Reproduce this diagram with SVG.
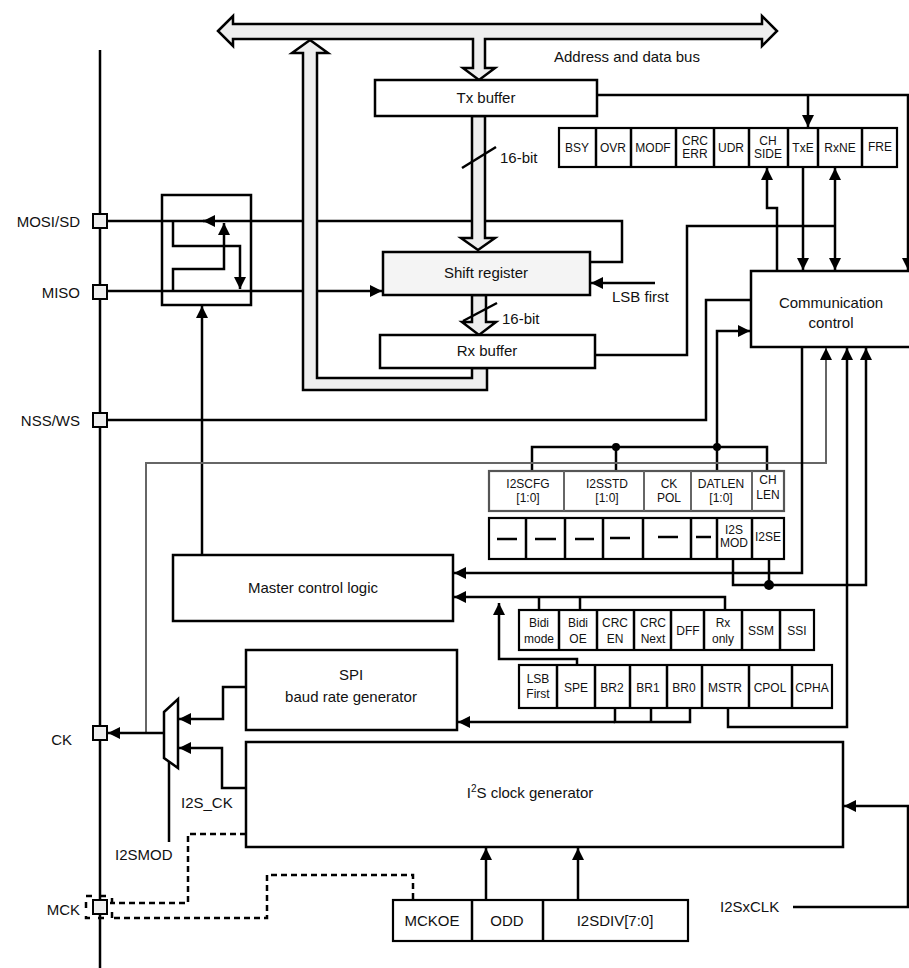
<svg xmlns="http://www.w3.org/2000/svg" width="909" height="968" viewBox="0 0 909 968">
<defs>
<marker id="ah" viewBox="0 0 10 10" refX="10" refY="5" markerWidth="12" markerHeight="12" markerUnits="userSpaceOnUse" orient="auto-start-reverse"><path d="M0,0 L10,5 L0,10 z" fill="#000"/></marker>
</defs>
<style>
text{font-family:"Liberation Sans",Arial,sans-serif;fill:#111}
.l{stroke:#000;stroke-width:2.5;fill:none}
.g{stroke:#666;stroke-width:2;fill:none}
.d{stroke:#000;stroke-width:2.5;fill:none;stroke-dasharray:6,4}
.b{fill:#fff;stroke:#000;stroke-width:2.5}
.bus{fill:#eee;stroke:#000;stroke-width:2.5}
.c{fill:#fff;stroke:#000;stroke-width:2.2}
.cg{fill:#fff;stroke:#555;stroke-width:2.2}
.t{font-size:15px;text-anchor:middle}
.s{font-size:12px;text-anchor:middle}
.p{font-size:15px;text-anchor:end}
.pin{fill:#eee;stroke:#000;stroke-width:2}
</style>
<g id="connectors">
<line class="l" x1="100" y1="50" x2="100" y2="968"/>
<polyline class="l" points="597,95 908,95 908,270" marker-end="url(#ah)"/>
<line class="l" x1="808" y1="95" x2="808" y2="127" marker-end="url(#ah)"/>
<polyline class="l" points="777,271 777,208 767,208 767,168" marker-end="url(#ah)"/>
<line class="l" x1="803" y1="168" x2="803" y2="270" marker-end="url(#ah)"/>
<line class="l" x1="835" y1="168" x2="835" y2="270" marker-start="url(#ah)" marker-end="url(#ah)"/>
<polyline class="l" points="595,355 687,355 687,226 835,226"/>
<polyline class="l" points="107,221 622,221 622,262 590,262"/>
<line class="l" x1="655" y1="283" x2="591" y2="283" marker-end="url(#ah)"/>
<line class="l" x1="107" y1="291" x2="382" y2="291" marker-end="url(#ah)"/>
<polyline class="l" points="173,221 173,246 240,246 240,289" marker-end="url(#ah)"/>
<polyline class="l" points="173,291 173,269 224,269 224,223" marker-end="url(#ah)"/>
<line class="l" x1="215" y1="221" x2="203" y2="221" marker-end="url(#ah)"/>
<line class="l" x1="202" y1="555" x2="202" y2="306" marker-end="url(#ah)"/>
<polyline class="l" points="107,420 706,420 706,300 751,300"/>
<polyline class="l" points="717,447 717,331 750,331" marker-end="url(#ah)"/>
<polyline class="l" points="532,471 532,447 767,447 767,471"/>
<line class="l" x1="616" y1="447" x2="616" y2="471"/>
<line class="l" x1="717" y1="447" x2="717" y2="471"/>
<circle cx="616" cy="447" r="4"/><circle cx="717" cy="447" r="4"/>
<polyline class="g" points="146,733 146,463 826,463 826,348" marker-end="url(#ah)"/>
<polyline class="l" points="802,347 802,573 454,573" marker-end="url(#ah)"/>
<polyline class="l" points="728,708 728,727 847,727 847,348" marker-end="url(#ah)"/>
<polyline class="l" points="733,559 733,585 866,585 866,348" marker-end="url(#ah)"/>
<line class="l" x1="769" y1="559" x2="769" y2="585"/>
<circle cx="769" cy="585" r="5"/>
<polyline class="l" points="725,610 725,597 454,597" marker-end="url(#ah)"/>
<line class="l" x1="539" y1="610" x2="539" y2="597"/>
<line class="l" x1="580" y1="610" x2="580" y2="597"/>
<polyline class="l" points="577,665 577,659 499,659 499,603" marker-end="url(#ah)"/>
<polyline class="l" points="615,708 615,722 690,722 690,708"/>
<line class="l" x1="651" y1="708" x2="651" y2="722"/>
<line class="l" x1="615" y1="722" x2="458" y2="722" marker-end="url(#ah)"/>
<polyline class="l" points="246,687 223,687 223,719 179,719" marker-end="url(#ah)"/>
<polyline class="l" points="246,788 222,788 222,748 179,748" marker-end="url(#ah)"/>
<line class="l" x1="164" y1="733" x2="108" y2="733" marker-end="url(#ah)"/>
<line class="l" x1="169" y1="760" x2="169" y2="842"/>
<polyline class="d" points="246,834 188,834 188,903 110,903"/>
<polyline class="d" points="413,899 413,875 267,875 267,918 110,918"/>
<line class="l" x1="486" y1="900" x2="486" y2="848" marker-end="url(#ah)"/>
<line class="l" x1="578" y1="900" x2="578" y2="848" marker-end="url(#ah)"/>
<polyline class="l" points="793,907 908,907 908,806 844,806" marker-end="url(#ah)"/>
</g>
<g id="buses">
<polygon class="bus" points="218,31 233,16 233,24 473,24 473,24 762,24 762,16 777,31 762,46 762,39 485,39 485,68 495,68 479,80 463,68 473,68 473,39 233,39 233,46"/>
<polygon class="bus" points="310,40 328,53 317,53 317,378 472,378 472,368 487,368 487,390 303,390 303,53 292,53"/>
<polygon class="bus" points="472,116 485,116 485,238 495,238 478,250 461,238 472,238"/>
<polygon class="bus" points="472,295 486,295 486,322 496,322 479,335 462,322 472,322"/>
</g>
<g id="tx"><rect class="b" x="375" y="80" width="222" height="36"/><text class="t" x="486" y="103">Tx buffer</text></g>
<g id="shift"><rect x="383" y="252" width="207" height="43" fill="#f4f4f4" stroke="#000" stroke-width="2.5"/><text class="t" x="486" y="278">Shift register</text></g>
<g id="rx"><rect class="b" x="380" y="335" width="215" height="33"/><text class="t" x="487" y="356">Rx buffer</text></g>
<g id="bitlabels">
<line class="l" x1="462" y1="168" x2="496" y2="147"/><text x="500" y="163" font-size="15">16-bit</text>
<line class="l" x1="463" y1="321" x2="497" y2="303"/><text x="502" y="324" font-size="15">16-bit</text>
<text x="554" y="62" font-size="15">Address and data bus</text>
<text x="612" y="302" font-size="15">LSB first</text>
</g>
<g id="status">
<rect class="c" x="559" y="128" width="338" height="39"/>
<g class="l"><line x1="596" y1="128" x2="596" y2="167"/><line x1="631" y1="128" x2="631" y2="167"/><line x1="676" y1="128" x2="676" y2="167"/><line x1="714" y1="128" x2="714" y2="167"/><line x1="749" y1="128" x2="749" y2="167"/><line x1="788" y1="128" x2="788" y2="167"/><line x1="818" y1="128" x2="818" y2="167"/><line x1="862" y1="128" x2="862" y2="167"/></g>
<text class="s" x="577" y="152">BSY</text><text class="s" x="613" y="152">OVR</text><text class="s" x="653" y="152">MODF</text>
<text class="s" x="695" y="145">CRC</text><text class="s" x="695" y="158">ERR</text>
<text class="s" x="731" y="152">UDR</text>
<text class="s" x="768" y="145">CH</text><text class="s" x="768" y="158">SIDE</text>
<text class="s" x="803" y="152">TxE</text><text class="s" x="840" y="152">RxNE</text><text class="s" x="880" y="151">FRE</text>
</g>
<g id="comm"><rect class="b" x="751" y="271" width="165" height="76"/><text class="t" x="831" y="308">Communication</text><text class="t" x="831" y="328">control</text></g>
<g id="switch"><rect class="l" x="162" y="195" width="89" height="110"/></g>
<g id="i2scfg">
<rect class="cg" x="489" y="471" width="295" height="40"/>
<g class="g"><line x1="564" y1="471" x2="564" y2="511"/><line x1="644" y1="471" x2="644" y2="511"/><line x1="691" y1="471" x2="691" y2="511"/><line x1="752" y1="471" x2="752" y2="511"/></g>
<text class="s" x="528" y="488">I2SCFG</text><text class="s" x="528" y="502">[1:0]</text>
<text class="s" x="607" y="488">I2SSTD</text><text class="s" x="607" y="502">[1:0]</text>
<text class="s" x="669" y="488">CK</text><text class="s" x="669" y="502">POL</text>
<text class="s" x="721" y="488">DATLEN</text><text class="s" x="721" y="502">[1:0]</text>
<text class="s" x="768" y="484">CH</text><text class="s" x="768" y="499">LEN</text>
</g>
<g id="i2sctl">
<rect class="c" x="489" y="518" width="295" height="41"/>
<g class="l"><line x1="526" y1="518" x2="526" y2="559"/><line x1="565" y1="518" x2="565" y2="559"/><line x1="603" y1="518" x2="603" y2="559"/><line x1="643" y1="518" x2="643" y2="559"/><line x1="691" y1="518" x2="691" y2="559"/><line x1="717" y1="518" x2="717" y2="559"/><line x1="752" y1="518" x2="752" y2="559"/></g>
<g stroke="#000" stroke-width="2.5"><line x1="497" y1="539" x2="517" y2="539"/><line x1="535" y1="539" x2="556" y2="539"/><line x1="575" y1="539" x2="594" y2="539"/><line x1="610" y1="538" x2="630" y2="538"/><line x1="658" y1="537" x2="678" y2="537"/><line x1="696" y1="537" x2="711" y2="537"/></g>
<text class="s" x="734" y="534">I2S</text><text class="s" x="734" y="547">MOD</text>
<text class="s" x="768" y="541">I2SE</text>
</g>
<g id="cr2">
<rect class="c" x="519" y="610" width="295" height="40"/>
<g class="l"><line x1="559" y1="610" x2="559" y2="650"/><line x1="597" y1="610" x2="597" y2="650"/><line x1="634" y1="610" x2="634" y2="650"/><line x1="671" y1="610" x2="671" y2="650"/><line x1="704" y1="610" x2="704" y2="650"/><line x1="742" y1="610" x2="742" y2="650"/><line x1="780" y1="610" x2="780" y2="650"/></g>
<text class="s" x="539" y="627">Bidi</text><text class="s" x="539" y="643">mode</text>
<text class="s" x="578" y="627">Bidi</text><text class="s" x="578" y="643">OE</text>
<text class="s" x="615" y="627">CRC</text><text class="s" x="615" y="643">EN</text>
<text class="s" x="653" y="627">CRC</text><text class="s" x="653" y="643">Next</text>
<text class="s" x="688" y="635">DFF</text>
<text class="s" x="723" y="627">Rx</text><text class="s" x="723" y="643">only</text>
<text class="s" x="761" y="635">SSM</text><text class="s" x="797" y="635">SSI</text>
</g>
<g id="cr1">
<rect class="c" x="519" y="665" width="313" height="43"/>
<g class="l"><line x1="557" y1="665" x2="557" y2="708"/><line x1="595" y1="665" x2="595" y2="708"/><line x1="630" y1="665" x2="630" y2="708"/><line x1="667" y1="665" x2="667" y2="708"/><line x1="702" y1="665" x2="702" y2="708"/><line x1="749" y1="665" x2="749" y2="708"/><line x1="792" y1="665" x2="792" y2="708"/></g>
<text class="s" x="538" y="683">LSB</text><text class="s" x="538" y="698">First</text>
<text class="s" x="576" y="692">SPE</text><text class="s" x="612" y="692">BR2</text><text class="s" x="648" y="692">BR1</text><text class="s" x="684" y="692">BR0</text>
<text class="s" x="725" y="692">MSTR</text><text class="s" x="770" y="692">CPOL</text><text class="s" x="812" y="692">CPHA</text>
</g>
<g id="master"><rect class="b" x="173" y="555" width="280" height="66"/><text class="t" x="313" y="593">Master control logic</text></g>
<g id="baud"><rect class="b" x="246" y="650" width="211" height="80"/><text class="t" x="351" y="680">SPI</text><text class="t" x="351" y="702">baud rate generator</text></g>
<g id="i2sclk"><rect class="b" x="246" y="742" width="597" height="105"/><text class="t" x="530" y="798">I<tspan font-size="10" dy="-6">2</tspan><tspan dy="6">S clock generator</tspan></text></g>
<g id="mux"><polygon points="164,712 178,699 178,768 164,758" fill="#fff" stroke="#000" stroke-width="2.5"/></g>
<g id="i2spr">
<rect class="c" x="393" y="900" width="295" height="41"/>
<g class="l"><line x1="472" y1="900" x2="472" y2="941"/><line x1="543" y1="900" x2="543" y2="941"/></g>
<text class="t" x="432" y="926">MCKOE</text><text class="t" x="507" y="926">ODD</text><text class="t" x="615" y="926">I2SDIV[7:0]</text>
</g>
<g id="pins">
<rect class="pin" x="93" y="214" width="14" height="14"/><text class="p" x="80" y="227">MOSI/SD</text>
<rect class="pin" x="93" y="285" width="14" height="14"/><text class="p" x="80" y="298">MISO</text>
<rect class="pin" x="93" y="413" width="14" height="14"/><text class="p" x="80" y="426">NSS/WS</text>
<rect class="pin" x="93" y="726" width="14" height="14"/><text class="p" x="72" y="745">CK</text>
<rect class="pin" x="93" y="900" width="14" height="14"/><text class="p" x="80" y="915">MCK</text>
<rect x="86" y="896" width="26" height="22" fill="none" stroke="#000" stroke-width="2.5" stroke-dasharray="6,8"/>
<text x="181" y="808" font-size="15">I2S_CK</text>
<text x="115" y="860" font-size="15">I2SMOD</text>
<text x="720" y="912" font-size="15">I2SxCLK</text>
</g>
</svg>
